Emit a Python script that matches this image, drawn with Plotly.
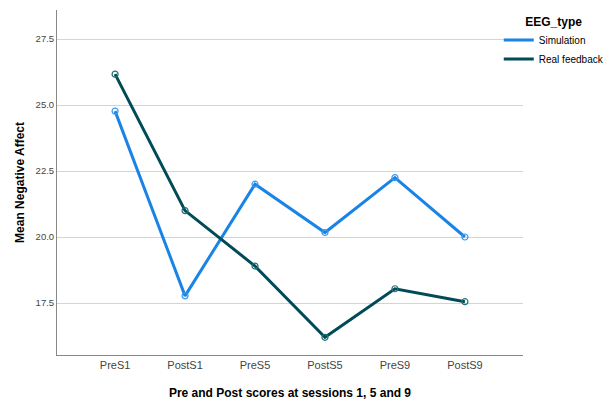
import plotly.graph_objects as go

categories = ["PreS1", "PostS1", "PreS5", "PostS5", "PreS9", "PostS9"]
simulation = [24.77, 17.77, 22.0, 20.17, 22.25, 20.0]
real_feedback = [26.17, 21.0, 18.9, 16.2, 18.04, 17.55]
y_ticks = [17.5, 20.0, 22.5, 25.0, 27.5]

sim_color = "#1a84e6"
real_color = "#004b57"
xs = list(range(len(categories)))

fig = go.Figure()
fig.add_trace(go.Scatter(
    x=xs, y=simulation, name="Simulation", showlegend=False,
    mode="lines+markers",
    line=dict(color=sim_color, width=3),
    marker=dict(symbol="circle-open", size=6, color="#3a9ae8", line=dict(width=1.2)),
))
fig.add_trace(go.Scatter(
    x=xs, y=real_feedback, name="Real feedback", showlegend=False,
    mode="lines+markers",
    line=dict(color=real_color, width=3),
    marker=dict(symbol="circle-open", size=6, color="#1f6f78", line=dict(width=1.2)),
))
# legend-only entries (line only, like the reference)
fig.add_trace(go.Scatter(x=[None], y=[None], name="Simulation", mode="lines",
                         line=dict(color=sim_color, width=3)))
fig.add_trace(go.Scatter(x=[None], y=[None], name="Real feedback", mode="lines",
                         line=dict(color=real_color, width=3)))

# page body has an 8px margin, so the figure is 8px smaller and margins shifted
fig.update_layout(
    width=606, height=400,
    margin=dict(l=49, r=91, t=2, b=53, autoexpand=False),
    paper_bgcolor="white", plot_bgcolor="white",
    font=dict(family="Liberation Sans, Arial, sans-serif", size=11, color="#000"),
    legend=dict(
        title=dict(text="<b>EEG_type</b>", font=dict(size=12), side="top center"),
        x=0.948, xanchor="left", y=1.0, yanchor="top",
        font=dict(size=10), itemwidth=30, tracegroupgap=0,
        bgcolor="rgba(0,0,0,0)",
    ),
    showlegend=True,
)
fig.update_xaxes(
    tickmode="array", tickvals=xs, ticktext=categories,
    range=[-0.83, 5.83], showgrid=False, zeroline=False,
    showline=True, linecolor="#888", linewidth=1,
    tickfont=dict(size=11, color="#444"), ticks="", automargin=False,
    title=dict(text="<b>Pre and Post scores at sessions 1, 5 and 9</b>", font=dict(size=12), standoff=18),
)
fig.update_yaxes(
    tickmode="array", tickvals=y_ticks, ticktext=[f"{v:.1f}" for v in y_ticks],
    range=[15.53, 28.6], showgrid=True, gridcolor="#d4d4d4", gridwidth=1,
    zeroline=False, showline=True, linecolor="#888", linewidth=1,
    tickfont=dict(size=9.5, color="#444"), ticks="", automargin=False,
    title=dict(text="<b>Mean Negative Affect</b>", font=dict(size=12), standoff=8),
)

fig.write_html("out.html")
